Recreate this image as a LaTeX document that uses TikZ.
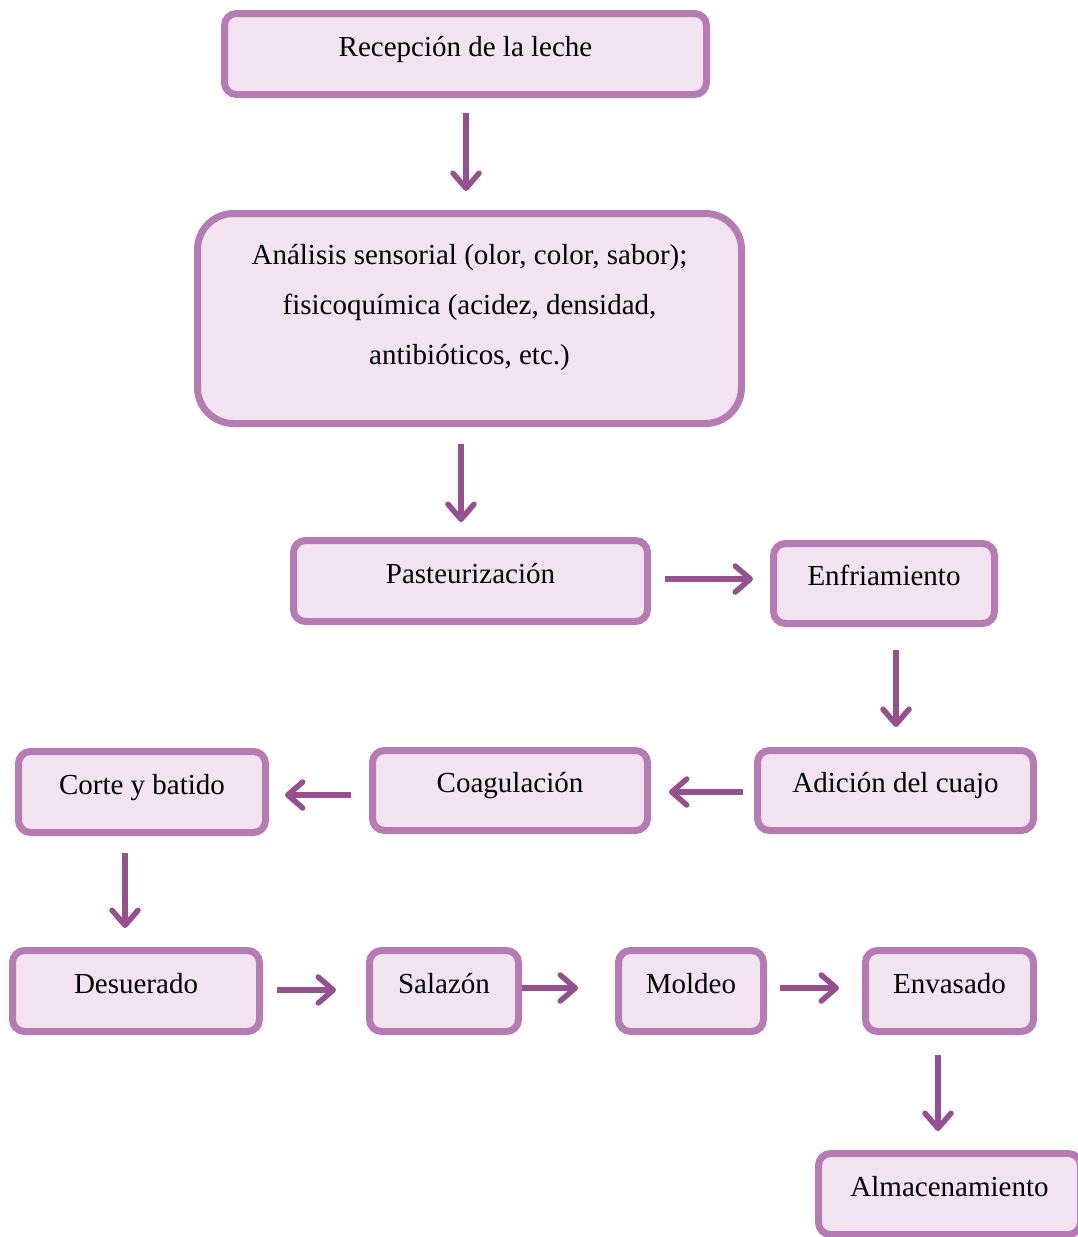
\documentclass[tikz,border=0pt]{standalone}
\usepackage{fontspec}
\setmainfont{Liberation Serif}
\usetikzlibrary{calc,arrows.meta}
\definecolor{boxborder}{HTML}{B77BB3}
\definecolor{boxfill}{HTML}{F1E3EF}
\definecolor{arrowcol}{HTML}{955090}
\tikzset{
  stepbox/.style={draw=boxborder, fill=boxfill, line width=7pt, rounded corners=12pt,
    inner sep=0pt, text height=20pt, text depth=16pt, font=\fontsize{29}{35}\selectfont},
  arr/.style={draw=arrowcol, line width=5.5pt,
    -{Straight Barb[length=15pt,width=26pt,line cap=round,line join=round]}}
}
\begin{document}
\begin{tikzpicture}[x=1pt,y=-1pt]
\useasboundingbox (0,0) rectangle (1078,1237);
\node[stepbox, minimum width=482pt, minimum height=81pt] (rec) at (465.5,54) {Recepción de la leche};
\node[stepbox, rounded corners=36pt, minimum width=544pt, minimum height=210pt, text depth=129pt,
  font=\fontsize{29}{50}\selectfont] (ana) at (469.5,318.5)
  {\begin{tabular}[t]{@{}c@{}}Análisis sensorial (olor, color, sabor);\\ fisicoquímica (acidez, densidad,\\ antibióticos, etc.)\end{tabular}};
\node[stepbox, minimum width=354pt, minimum height=81pt] (pas) at (470.5,581) {Pasteurización};
\node[stepbox, minimum width=221pt, minimum height=80pt] (enf) at (884,583.5) {Enfriamiento};
\node[stepbox, minimum width=276pt, minimum height=80pt] (adi) at (895.5,790.5) {Adición del cuajo};
\node[stepbox, minimum width=275pt, minimum height=80pt] (coa) at (510,790.5) {Coagulación};
\node[stepbox, minimum width=247pt, minimum height=81pt] (cor) at (142,792) {Corte y batido};
\node[stepbox, minimum width=247pt, minimum height=81pt] (des) at (136,991) {Desuerado};
\node[stepbox, minimum width=149pt, minimum height=81pt] (sal) at (444,991) {Salazón};
\node[stepbox, minimum width=145pt, minimum height=81pt] (mol) at (691,991) {Moldeo};
\node[stepbox, minimum width=168pt, minimum height=81pt] (env) at (949.5,991) {Envasado};
\node[stepbox, minimum width=262pt, minimum height=81pt] (alm) at (949.5,1194) {Almacenamiento};

\draw[arr] ($(rec.south)+(0.5,15)$) -- ($(ana.north)+(-3.5,-19)$);
\draw[arr] ($(ana.south)+(-8.5,17)$) -- ($(pas.north)+(-9.5,-15)$);
\draw[arr] ($(pas.east)+(14,-2)$) -- ($(enf.west)+(-17,-4.5)$);
\draw[arr] ($(enf.south)+(12,23)$) -- ($(adi.north)+(0.5,-20)$);
\draw[arr] ($(adi.west)+(-11,1.5)$) -- ($(coa.east)+(18,1.5)$);
\draw[arr] ($(coa.west)+(-18,4.5)$) -- ($(cor.east)+(16,3)$);
\draw[arr] ($(cor.south)+(-17,17)$) -- ($(des.north)+(-11,-19)$);
\draw[arr] ($(des.east)+(14,-1)$) -- ($(sal.west)+(-30,-1)$);
\draw[arr] ($(sal.east)+(0,-3)$) -- ($(mol.west)+(-37,-3)$);
\draw[arr] ($(mol.east)+(13,-3)$) -- ($(env.west)+(-23,-3)$);
\draw[arr] ($(env.south)+(-11.5,20)$) -- ($(alm.north)+(-11.5,-19)$);
\end{tikzpicture}
\end{document}
